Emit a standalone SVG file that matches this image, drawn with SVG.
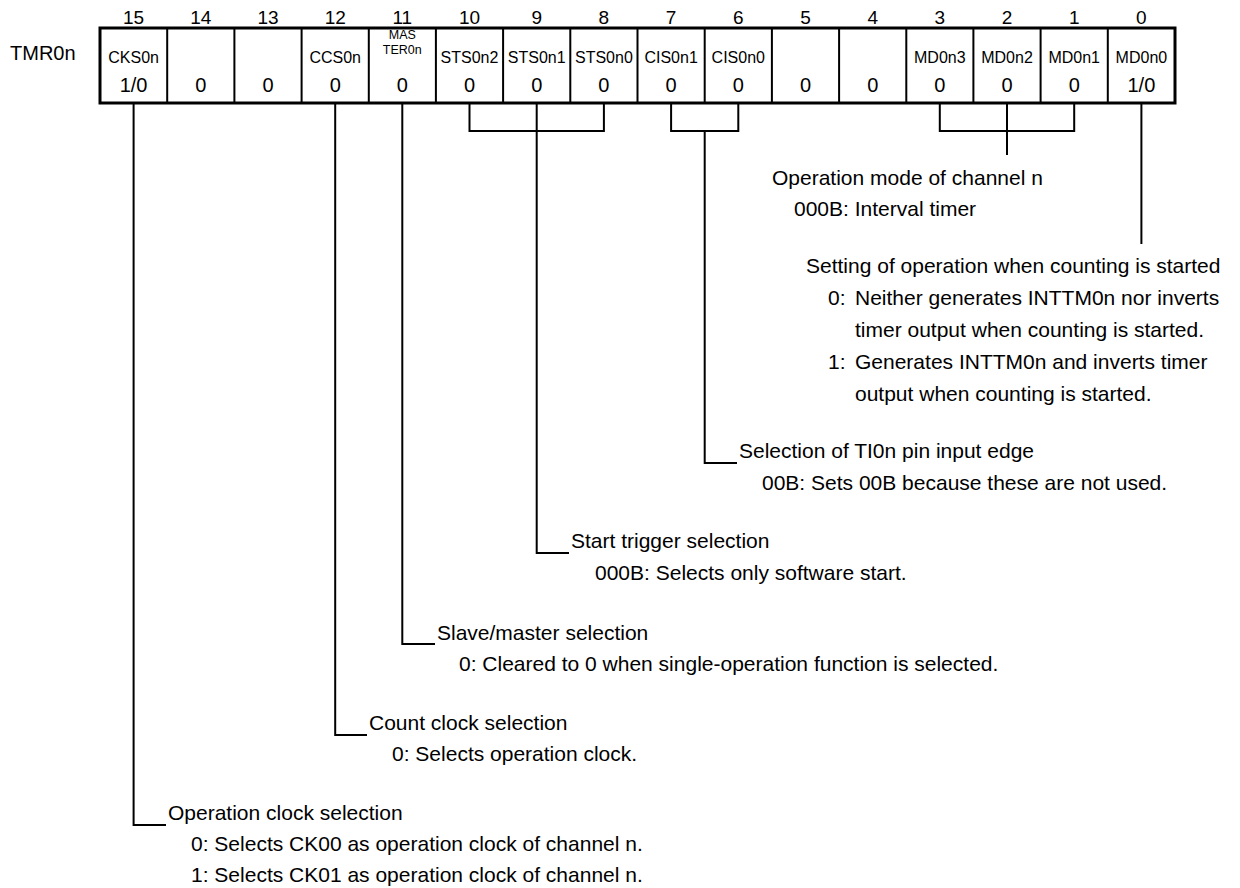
<svg xmlns="http://www.w3.org/2000/svg" width="1240" height="888" viewBox="0 0 1240 888">
<style>
text{font-family:"Liberation Sans",Arial,Helvetica,sans-serif;fill:#000}
.bit{font-size:19px;text-anchor:middle}
.reg{font-size:20px}
.fld{font-size:16px;text-anchor:middle}
.fsm{font-size:12.5px;text-anchor:middle}
.val{font-size:20px;text-anchor:middle}
.d{font-size:21px}
.ln{stroke:#000;stroke-width:2;fill:none}
.cell{stroke:#000;stroke-width:2}
</style>
<rect width="1240" height="888" fill="#fff"/>
<g id="bitnums">
<text class="bit" x="133.6" y="24">15</text>
<text class="bit" x="200.8" y="24">14</text>
<text class="bit" x="268" y="24">13</text>
<text class="bit" x="335.2" y="24">12</text>
<text class="bit" x="402.3" y="24">11</text>
<text class="bit" x="469.5" y="24">10</text>
<text class="bit" x="536.7" y="24">9</text>
<text class="bit" x="603.9" y="24">8</text>
<text class="bit" x="671.1" y="24">7</text>
<text class="bit" x="738.3" y="24">6</text>
<text class="bit" x="805.5" y="24">5</text>
<text class="bit" x="872.7" y="24">4</text>
<text class="bit" x="939.8" y="24">3</text>
<text class="bit" x="1007" y="24">2</text>
<text class="bit" x="1074.2" y="24">1</text>
<text class="bit" x="1141.4" y="24">0</text>
</g>
<g id="register">
<text class="reg" x="10" y="60">TMR0n</text>
<rect x="100" y="28" width="1075" height="75" fill="#fff" stroke="#000" stroke-width="3"/>
<path class="cell" d="M167.2 28V103M234.4 28V103M301.6 28V103M368.8 28V103M435.9 28V103M503.1 28V103M570.3 28V103M637.5 28V103M704.7 28V103M771.9 28V103M839.1 28V103M906.3 28V103M973.4 28V103M1040.6 28V103M1107.8 28V103"/>
<text class="fld" x="133.6" y="63">CKS0n</text>
<text class="fld" x="335.2" y="63">CCS0n</text>
<text class="fsm" x="402.3" y="39">MAS</text>
<text class="fsm" x="402.3" y="54">TER0n</text>
<text class="fld" x="469.5" y="63">STS0n2</text>
<text class="fld" x="536.7" y="63">STS0n1</text>
<text class="fld" x="603.9" y="63">STS0n0</text>
<text class="fld" x="671.1" y="63">CIS0n1</text>
<text class="fld" x="738.3" y="63">CIS0n0</text>
<text class="fld" x="939.8" y="63">MD0n3</text>
<text class="fld" x="1007" y="63">MD0n2</text>
<text class="fld" x="1074.2" y="63">MD0n1</text>
<text class="fld" x="1141.4" y="63">MD0n0</text>
<text class="val" x="133.6" y="92">1/0</text>
<text class="val" x="200.8" y="92">0</text>
<text class="val" x="268" y="92">0</text>
<text class="val" x="335.2" y="92">0</text>
<text class="val" x="402.3" y="92">0</text>
<text class="val" x="469.5" y="92">0</text>
<text class="val" x="536.7" y="92">0</text>
<text class="val" x="603.9" y="92">0</text>
<text class="val" x="671.1" y="92">0</text>
<text class="val" x="738.3" y="92">0</text>
<text class="val" x="805.5" y="92">0</text>
<text class="val" x="872.7" y="92">0</text>
<text class="val" x="939.8" y="92">0</text>
<text class="val" x="1007" y="92">0</text>
<text class="val" x="1074.2" y="92">0</text>
<text class="val" x="1141.4" y="92">1/0</text>
</g>
<g id="connectors">
<path class="ln" d="M133.6 103V825H166"/>
<path class="ln" d="M335.2 103V735H367"/>
<path class="ln" d="M402.3 103V644H435"/>
<path class="ln" d="M469.5 103V131H603.9V103M536.7 103V553H569"/>
<path class="ln" d="M671.1 103V131H738.3V103M704.7 131V463H737"/>
<path class="ln" d="M939.8 103V131H1074.2V103M1007 103V155"/>
<path class="ln" d="M1141.4 103V244"/>
</g>
<g id="desc-md">
<text class="d" x="772" y="185">Operation mode of channel n</text>
<text class="d" x="794" y="216">000B: Interval timer</text>
</g>
<g id="desc-md0">
<text class="d" x="806" y="273">Setting of operation when counting is started</text>
<text class="d" x="828" y="305">0:</text>
<text class="d" x="855" y="305">Neither generates INTTM0n nor inverts</text>
<text class="d" x="855" y="337">timer output when counting is started.</text>
<text class="d" x="828" y="369">1:</text>
<text class="d" x="855" y="369">Generates INTTM0n and inverts timer</text>
<text class="d" x="855" y="401">output when counting is started.</text>
</g>
<g id="desc-cis">
<text class="d" x="739" y="458">Selection of TI0n pin input edge</text>
<text class="d" x="762" y="490">00B: Sets 00B because these are not used.</text>
</g>
<g id="desc-sts">
<text class="d" x="571" y="548">Start trigger selection</text>
<text class="d" x="595" y="580">000B: Selects only software start.</text>
</g>
<g id="desc-master">
<text class="d" x="437" y="640">Slave/master selection</text>
<text class="d" x="459" y="671">0: Cleared to 0 when single-operation function is selected.</text>
</g>
<g id="desc-ccs">
<text class="d" x="369" y="730">Count clock selection</text>
<text class="d" x="392" y="761">0: Selects operation clock.</text>
</g>
<g id="desc-cks">
<text class="d" x="168" y="820">Operation clock selection</text>
<text class="d" x="191" y="851">0: Selects CK00 as operation clock of channel n.</text>
<text class="d" x="191" y="882">1: Selects CK01 as operation clock of channel n.</text>
</g>
</svg>
